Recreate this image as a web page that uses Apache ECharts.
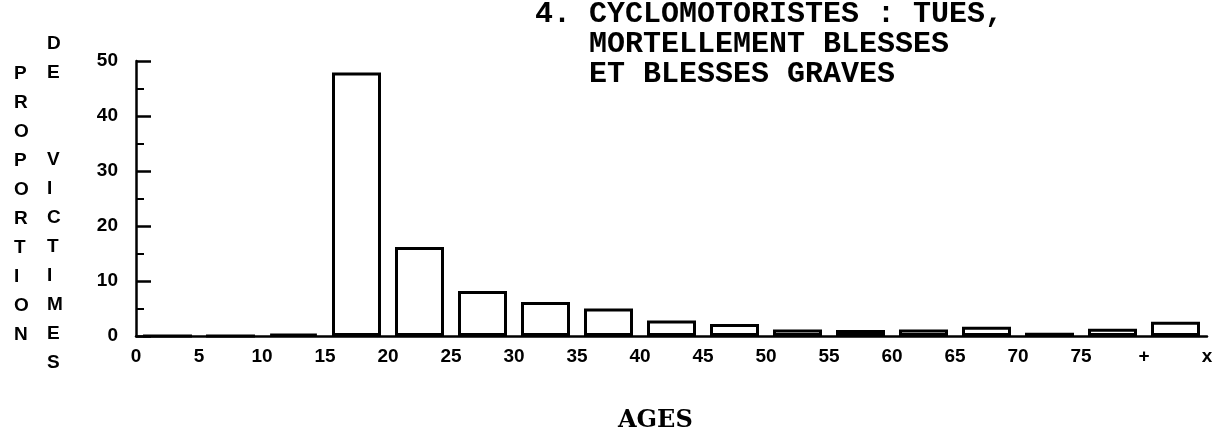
<!DOCTYPE html>
<html>
<head>
<meta charset="utf-8">
<script src="https://cdn.jsdelivr.net/npm/echarts@6/dist/echarts.min.js"></script>
<style>
  html, body { margin: 0; padding: 0; background: #ffffff; }
  #chart { width: 1228px; height: 437px; }
</style>
</head>
<body>
<div id="chart"></div>
<script>
// Age groups (17 slots between 18 boundary labels)
var tickLabels = ['0', '5', '10', '15', '20', '25', '30', '35', '40', '45', '50', '55', '60', '65', '70', '75', '+', 'x'];
var ageGroups = ['0-5', '5-10', '10-15', '15-20', '20-25', '25-30', '30-35', '35-40', '40-45', '45-50', '50-55', '55-60', '60-65', '65-70', '70-75', '75+', 'x'];
var proportion = [0, 0, 0.4, 47.9, 16.2, 8.2, 6.2, 5.0, 2.8, 2.2, 1.2, 1.1, 1.2, 1.7, 0.6, 1.3, 2.6];
var yTicks = [0, 10, 20, 30, 40, 50];

var titleText = '4. CYCLOMOTORISTES : TUES,\n   MORTELLEMENT BLESSES\n   ET BLESSES GRAVES';
var yName1 = 'PROPORTION';
var yName2 = ['D', 'E', ' ', ' ', 'V', 'I', 'C', 'T', 'I', 'M', 'E', 'S'];
var xName = 'AGES';

var barData = proportion.map(function (v, i) { return [i + 0.5, v]; });

var chart = echarts.init(document.getElementById('chart'), null, { renderer: 'canvas' });
var sansBold = { fontFamily: 'Liberation Sans, Arial, sans-serif', fontWeight: 'bold', fontSize: 19, color: '#000' };

chart.setOption({
  animation: false,
  backgroundColor: '#ffffff',
  title: {
    text: titleText,
    left: 535,
    top: -1,
    padding: 0,
    textStyle: {
      fontFamily: 'Liberation Mono, Courier New, monospace',
      fontWeight: 'bold',
      fontSize: 30,
      lineHeight: 30,
      color: '#000'
    }
  },
  grid: { left: 136, right: 21, top: 61, bottom: 101, containLabel: false },
  xAxis: {
    type: 'value',
    min: 0,
    max: tickLabels.length - 1,
    interval: 1,
    axisLine: { show: true, onZero: false, lineStyle: { color: '#000', width: 2.5 } },
    axisTick: { show: false },
    splitLine: { show: false },
    axisLabel: Object.assign({
      margin: 11,
      showMinLabel: true,
      showMaxLabel: true,
      formatter: function (v) { return tickLabels[Math.round(v)]; }
    }, sansBold)
  },
  yAxis: {
    type: 'value',
    min: yTicks[0],
    max: yTicks[yTicks.length - 1],
    interval: 10,
    axisLine: { show: true, lineStyle: { color: '#000', width: 2.5 } },
    axisTick: { show: true, inside: true, length: 15, lineStyle: { color: '#000', width: 2.5 } },
    minorTick: { show: true, splitNumber: 2, length: 8, lineStyle: { color: '#000', width: 2 } },
    splitLine: { show: false },
    axisLabel: Object.assign({ margin: 18 }, sansBold)
  },
  series: [{
    type: 'bar',
    data: barData,
    barWidth: 49,
    itemStyle: { color: '#ffffff', borderColor: '#000', borderWidth: 3 },
    emphasis: { disabled: true }
  }],
  graphic: [
    {
      type: 'text',
      left: 14,
      top: 59,
      style: {
        text: yName1.split('').join('\n'),
        lineHeight: 29,
        align: 'center',
        fill: '#000',
        font: 'bold 19px "Liberation Sans", Arial, sans-serif'
      }
    },
    {
      type: 'text',
      left: 47,
      top: 29,
      style: {
        text: yName2.join('\n'),
        lineHeight: 29,
        align: 'center',
        fill: '#000',
        font: 'bold 19px "Liberation Sans", Arial, sans-serif'
      }
    },
    {
      type: 'text',
      left: 618,
      top: 409,
      style: {
        text: xName,
        fill: '#000',
        font: 'bold 24px "DejaVu Serif", serif'
      }
    }
  ]
});
</script>
</body>
</html>
